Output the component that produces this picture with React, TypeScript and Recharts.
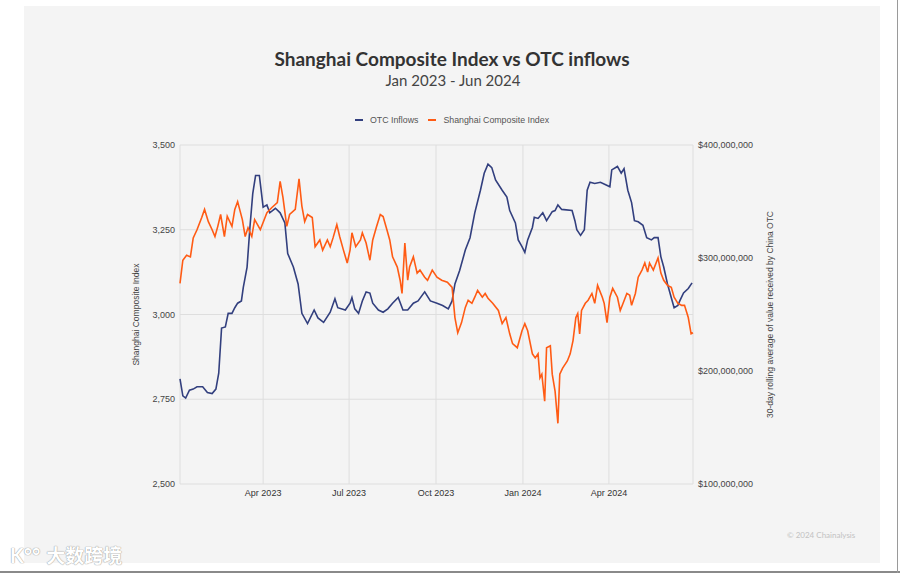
import React from "react";
import { LineChart, Line, XAxis, YAxis, CartesianGrid } from "recharts";

// x values are days since 1 Jan 2023
const xTickDays = [90, 181, 273, 365, 456];
const xTickLabels = ["Apr 2023", "Jul 2023", "Oct 2023", "Jan 2024", "Apr 2024"];
const leftTicks = [2500, 2750, 3000, 3250, 3500];
const rightTicks = [100, 200, 300, 400]; // $ millions

// Shanghai Composite Index (daily close, sampled)
const sseDays = [
  2, 5, 9, 13, 16, 20, 25, 28, 32, 36, 39, 42, 45, 49, 52, 57, 60, 63, 68, 71,
  74, 78, 81, 87, 94, 99, 105, 108, 111, 115, 118, 124, 128, 131, 134, 137, 142,
  145, 150, 153, 158, 161, 164, 168, 171, 175, 179, 182, 184, 188, 193, 195, 199,
  203, 206, 210, 214, 217, 221, 224, 227, 232, 235, 237, 240, 243, 245, 249, 253,
  256, 261, 264, 269, 274, 279, 285, 290, 293, 296, 300, 304, 307, 311, 314, 317,
  322, 325, 328, 333, 339, 343, 347, 351, 354, 359, 364, 367, 370, 375, 378, 381,
  383, 385, 388, 390, 394, 396, 399, 402, 404, 407, 412, 415, 418, 421, 423, 425,
  427, 431, 434, 438, 441, 444, 449, 451, 454, 457, 460, 465, 468, 471, 475, 478,
  480, 484, 487, 491, 494, 497, 499, 503, 508, 511, 514, 518, 522, 525, 529, 533,
  536, 540, 543, 545,
];
const sseValues = [
  3092, 3160, 3175, 3170, 3226, 3250, 3286, 3310, 3274, 3250, 3230, 3260, 3295,
  3230, 3290, 3260, 3310, 3333, 3280, 3230, 3256, 3230, 3280, 3250, 3300, 3315,
  3330, 3393, 3345, 3260, 3295, 3310, 3400, 3320, 3274, 3295, 3286, 3200, 3220,
  3190, 3220, 3200, 3226, 3265, 3230, 3190, 3152, 3190, 3241, 3200, 3220, 3241,
  3211, 3160, 3220, 3259, 3295, 3289, 3250, 3220, 3170, 3140, 3101, 3062, 3211,
  3101, 3140, 3170, 3122, 3131, 3110, 3101, 3131, 3110, 3101, 3095, 3080, 2991,
  2946, 2976, 3021, 3042, 3033, 3051, 3071, 3051, 3062, 3048, 3033, 3012, 2973,
  2991, 2943, 2914, 2902, 2952, 2973, 2952, 2884, 2872, 2884, 2813, 2824, 2744,
  2902, 2908, 2824, 2774, 2679, 2824, 2842, 2863, 2884, 2923, 2991, 3003, 2943,
  3012, 3033, 3042, 3062, 3033, 3086, 3051, 3033, 2976, 3051, 3077, 3051, 3012,
  3033, 3062, 3057, 3027, 3062, 3110, 3131, 3152, 3125, 3152, 3131, 3167, 3122,
  3101, 3086, 3080, 3051, 3033, 3027, 3027, 2991, 2943, 2946,
];

// OTC inflows, 30-day rolling average, $ millions
const otcDays = [
  2, 5, 8, 12, 16, 20, 26, 31, 36, 40, 43, 46, 50, 53, 57, 60, 63, 67, 69, 73,
  76, 79, 82, 86, 90, 94, 97, 103, 108, 113, 116, 122, 127, 131, 137, 144, 148,
  154, 161, 166, 169, 177, 182, 184, 187, 191, 195, 199, 203, 206, 212, 217, 222,
  227, 233, 238, 243, 249, 254, 261, 267, 274, 280, 286, 290, 293, 298, 304, 309,
  314, 320, 324, 328, 332, 336, 343, 348, 351, 357, 360, 364, 367, 370, 375, 377,
  381, 386, 390, 396, 399, 402, 406, 417, 420, 422, 426, 430, 433, 436, 441, 447,
  452, 457, 459, 465, 469, 472, 476, 480, 483, 487, 492, 496, 501, 504, 508, 511,
  514, 518, 523, 525, 529, 531, 535, 540, 544,
];
const otcMillions = [
  193, 178, 176, 183, 184, 186, 186, 181, 180, 184, 198, 238, 239, 251, 251, 256,
  260, 262, 274, 292, 327, 357, 373, 373, 345, 347, 340, 344, 340, 331, 304, 292,
  277, 251, 242, 254, 247, 243, 252, 264, 256, 254, 260, 265, 255, 251, 262, 270,
  269, 260, 254, 252, 255, 260, 265, 254, 254, 260, 262, 270, 262, 260, 258, 255,
  262, 277, 289, 307, 318, 340, 360, 375, 383, 380, 369, 360, 354, 342, 331, 316,
  310, 305, 316, 327, 336, 335, 340, 333, 341, 342, 347, 343, 342, 333, 325, 320,
  325, 360, 367, 366, 367, 365, 363, 378, 381, 375, 379, 360, 349, 333, 332, 329,
  318, 316, 318, 318, 301, 292, 277, 262, 256, 258, 262, 269, 273, 278,
];

const sseData = sseDays.map((day, i) => ({ day, value: sseValues[i] }));
const otcData = otcDays.map((day, i) => ({ day, value: otcMillions[i] }));

const BLUE = "#323f7e";
const ORANGE = "#ff5b14";
const tickStyle = { fontSize: 9, fill: "#444", fontFamily: "'Liberation Sans', Arial, sans-serif" };

const App = () => {
  return (
    <div style={{ position: "absolute", left: 0, top: 0, width: 900, height: 573, background: "#fff", overflow: "hidden" }}>
      {/* panel */}
      <div style={{ position: "absolute", left: 24, top: 6, width: 856, height: 557, background: "#f4f4f4" }} />

      {/* title */}
      <div style={{ position: "absolute", left: 0, top: 47, width: 904, textAlign: "center", fontFamily: "Lato, sans-serif", fontWeight: 700, fontSize: 19, color: "#333" }}>
        Shanghai Composite Index vs OTC inflows
      </div>
      <div style={{ position: "absolute", left: 0, top: 71, width: 906, textAlign: "center", fontFamily: "Lato, sans-serif", fontSize: 15, color: "#444" }}>
        Jan 2023 - Jun 2024
      </div>

      {/* legend */}
      <div style={{ position: "absolute", left: 355, top: 115, display: "flex", alignItems: "center", fontFamily: "'Liberation Sans', Arial, sans-serif", fontSize: 8.8, color: "#555" }}>
        <span style={{ width: 8, height: 2, background: BLUE, marginRight: 7 }} />
        <span style={{ marginRight: 10 }}>OTC Inflows</span>
        <span style={{ width: 8, height: 2, background: ORANGE, marginRight: 7 }} />
        <span>Shanghai Composite Index</span>
      </div>

      <div style={{ position: "absolute", left: 0, top: 0 }}>
        <LineChart width={900} height={573} margin={{ top: 145, right: 125, bottom: 69, left: 130 }}>
          <CartesianGrid stroke="#dedede" yAxisId="left" />
          <XAxis
            dataKey="day"
            type="number"
            domain={[2, 545]}
            ticks={xTickDays}
            tickFormatter={(d) => xTickLabels[xTickDays.indexOf(d)]}
            axisLine={false}
            tickLine={false}
            tickSize={0}
            tickMargin={6}
            height={20}
            tick={{ ...tickStyle, fill: "#333" }}
            allowDuplicatedCategory={false}
          />
          <YAxis
            yAxisId="left"
            domain={[2500, 3500]}
            ticks={leftTicks}
            tickFormatter={(v) => v.toLocaleString("en-US")}
            axisLine={false}
            tickLine={false}
            tickSize={0}
            tickMargin={5}
            width={50}
            tick={tickStyle}
            label={{
              value: "Shanghai Composite Index",
              angle: -90,
              position: "insideLeft",
              offset: 6,
              style: { textAnchor: "middle", fontSize: 8.5, fill: "#444", fontFamily: "'Liberation Sans', Arial, sans-serif" },
            }}
          />
          <YAxis
            yAxisId="right"
            orientation="right"
            domain={[100, 400]}
            ticks={rightTicks}
            tickFormatter={(v) => "$" + (v * 1000000).toLocaleString("en-US")}
            axisLine={false}
            tickLine={false}
            tickSize={0}
            tickMargin={5}
            width={82}
            tick={tickStyle}
            label={{
              value: "30-day rolling average of value received by China OTC",
              angle: -90,
              position: "insideRight",
              offset: 5,
              style: { textAnchor: "middle", fontSize: 8.5, fill: "#444", fontFamily: "'Liberation Sans', Arial, sans-serif" },
            }}
          />
          <Line
            yAxisId="right"
            data={otcData}
            dataKey="value"
            name="OTC Inflows"
            type="linear"
            stroke={BLUE}
            strokeWidth={1.6}
            dot={false}
            isAnimationActive={false}
          />
          <Line
            yAxisId="left"
            data={sseData}
            dataKey="value"
            name="Shanghai Composite Index"
            type="linear"
            stroke={ORANGE}
            strokeWidth={1.6}
            dot={false}
            isAnimationActive={false}
          />
        </LineChart>
      </div>

      {/* footer */}
      <div style={{ position: "absolute", left: 787, top: 530, fontFamily: "Lato, sans-serif", fontSize: 8, color: "#c2c2c2" }}>
        © 2024 Chainalysis
      </div>
      <div style={{ position: "absolute", left: 10, top: 541, fontFamily: "'Noto Sans CJK SC', sans-serif", fontSize: 19, fontWeight: 700, color: "#fff", textShadow: "0 0 1px #999, 0 0 1px #999" }}>
        <span style={{ fontFamily: "Lato, sans-serif", fontSize: 20, marginRight: 6 }}>K°°</span>大数跨境
      </div>
      <div style={{ position: "absolute", left: 0, top: 571, width: 900, height: 2, background: "#8a8a8a" }} />
      <div style={{ position: "absolute", left: 897, top: 0, width: 1, height: 573, background: "#9a9a9a" }} />
    </div>
  );
};

export default App;
